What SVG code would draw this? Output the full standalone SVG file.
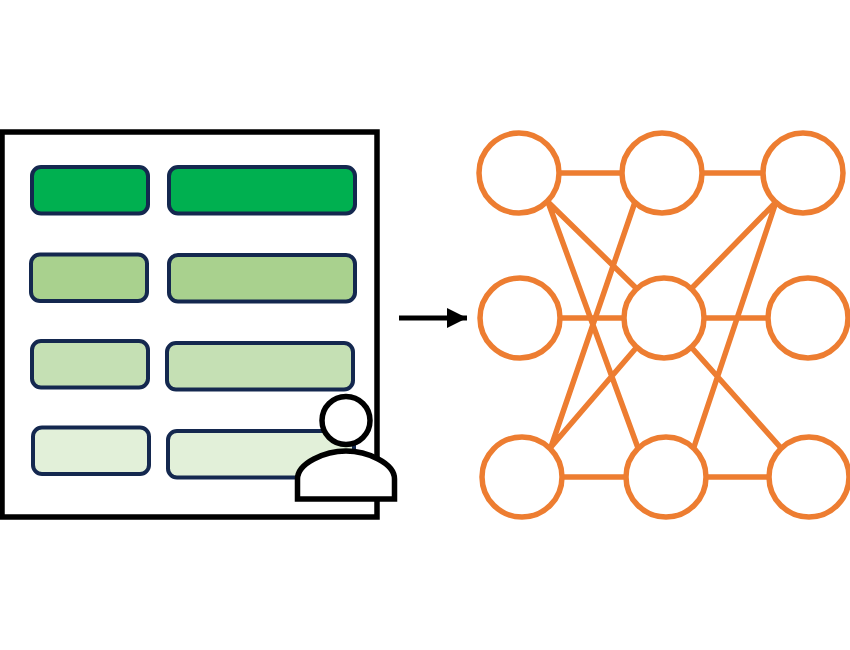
<svg xmlns="http://www.w3.org/2000/svg" width="850" height="650" viewBox="0 0 850 650">
<defs>
<style>
.bar{stroke:#14284f;stroke-width:4}
.n{fill:#fff;stroke:#ed7d31;stroke-width:5.500}
.e{stroke:#ed7d31;stroke-width:5.500;fill:none}
.p{fill:#fff;stroke:#000;stroke-width:5.500}
</style>
<marker id="a" markerUnits="userSpaceOnUse" markerWidth="20" markerHeight="20" refX="20" refY="10" orient="auto"><path d="M0 0L20 10L0 20z" fill="#000"/></marker>
</defs>
<rect width="850" height="650" fill="#fff"/>
<g id="table">
<rect x="2" y="132" width="375" height="385" fill="#fff" stroke="#000" stroke-width="5.500"/>
<rect class="bar" x="32" y="167" width="116" height="46.500" rx="9" fill="#00b050"/>
<rect class="bar" x="169" y="167" width="186" height="46.500" rx="9" fill="#00b050"/>
<rect class="bar" x="31" y="254.500" width="116" height="46.500" rx="9" fill="#a9d18e"/>
<rect class="bar" x="169" y="255" width="186" height="46.500" rx="9" fill="#a9d18e"/>
<rect class="bar" x="32" y="341" width="116" height="46.500" rx="9" fill="#c5e0b4"/>
<rect class="bar" x="167" y="343" width="186" height="46.500" rx="9" fill="#c5e0b4"/>
<rect class="bar" x="33" y="427.500" width="116" height="46.500" rx="9" fill="#e2f0d9"/>
<rect class="bar" x="168" y="431" width="186" height="46.500" rx="9" fill="#e2f0d9"/>
</g>
<g id="person">
<circle class="p" cx="346" cy="420.500" r="24"/>
<path class="p" d="M297.500 499V479C297.500 463 325 451 346 451S394.500 463 394.500 479V499Z"/>
</g>
<g id="connectors">
<path d="M399 318H467" stroke="#000" stroke-width="5" marker-end="url(#a)"/>
<path class="e" d="M559 173H622M702 173H763M560 318H624M704 318H768M562 477H625M706 477H769"/>
<path class="e" d="M548 202L636 288M548 202L638 448M635 202L551 447M551 447L636 348M776 202L692 288M776 202L694 447M692 348L781 448"/>
</g>
<g id="n1"><circle class="n" cx="519" cy="173" r="40"/></g>
<g id="n2"><circle class="n" cx="662" cy="173" r="40"/></g>
<g id="n3"><circle class="n" cx="803" cy="173" r="40"/></g>
<g id="n4"><circle class="n" cx="520" cy="318" r="40"/></g>
<g id="n5"><circle class="n" cx="664" cy="318" r="40"/></g>
<g id="n6"><circle class="n" cx="808" cy="318" r="40"/></g>
<g id="n7"><circle class="n" cx="522" cy="477" r="40"/></g>
<g id="n8"><circle class="n" cx="666" cy="477" r="40"/></g>
<g id="n9"><circle class="n" cx="809" cy="477" r="40"/></g>
</svg>
